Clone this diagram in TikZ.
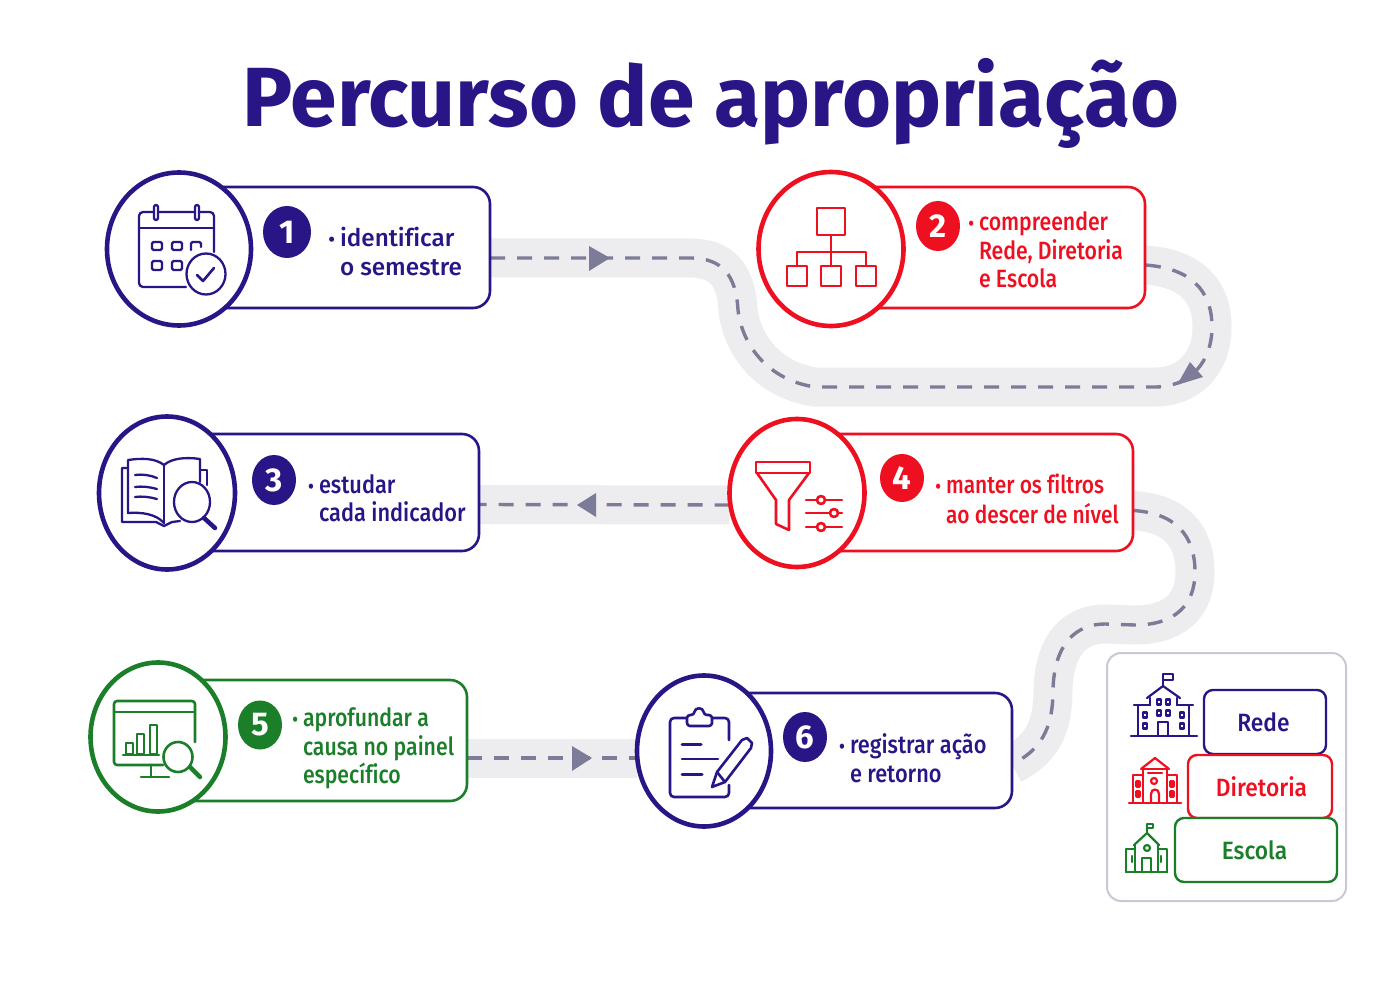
\documentclass[tikz,border=0pt]{standalone}
\usepackage{fontspec}
\usetikzlibrary{shapes.geometric,calc,backgrounds}
\setmainfont{Fira Sans}
\newfontfamily\bodyf{Fira Sans Medium}[Ligatures=NoCommon]
\newfontfamily\narf{Fira Sans Medium}[FakeStretch=0.87,Ligatures=NoCommon]
\newfontfamily\nartf{Fira Sans Medium}[FakeStretch=0.85,Ligatures=NoCommon]
\newfontfamily\medf{Fira Sans Medium}[FakeStretch=0.91,Ligatures=NoCommon]
\definecolor{navy}{HTML}{2A1587}
\definecolor{redd}{HTML}{EE1020}
\definecolor{grn}{HTML}{1B7F2A}
\definecolor{roadc}{HTML}{EDEDEF}
\definecolor{dashc}{HTML}{7C7C98}
\definecolor{panelc}{HTML}{C9C9D6}
\tikzset{
 every node/.style={inner sep=0pt,outer sep=0pt},
 stepbox/.style={draw=#1,fill=white,line width=2.6pt,rounded corners=17pt},
 ring/.style={draw=#1,fill=white,line width=4.6pt,ellipse},
 badge/.style={fill=#1,text=white,ellipse,font=\fontsize{33}{33}\selectfont\bfseries},
 lbl/.style={text=#1,anchor=west,align=left,font=\narf\fontsize{25}{28.5}\selectfont},
 band/.style={draw=roadc,line width=39pt,line cap=butt},
 dashline/.style={draw=dashc,line width=3.4pt,dash pattern=on 15pt off 12pt},
 tip/.style={fill=dashc},
 icon/.style={draw=#1,line width=2.3pt,line join=round,line cap=round},
 levelbox/.style={draw=#1,text=#1,fill=white,line width=2.4pt,rounded corners=9pt,font=\medf\fontsize{25}{28}\selectfont},
}
\newcommand{\stepnode}[6]{% name, color, box left, box right, top, bottom
 \node[stepbox=#2,minimum width=#4pt-#3pt,minimum height=#6pt-#5pt] (#1) at ({(#3+#4)/2},{(#5+#6)/2}) {};
}
\newcommand{\bul}{\llap{{\fontsize{20}{20}\selectfont •}\hspace{5pt}}}
\newcommand{\roadA}{(a0) -- (a1) .. controls (a2) and (a3) .. (a4) .. controls (a5) and (a6) .. (a7) -- (a8) .. controls (a9) and (a10) .. (a11) .. controls (a12) and (a13) .. (a14)}
\newcommand{\roadC}{(r0) .. controls (r1) and (r2) .. (r3) .. controls (r4) and (r5) .. (r6) -- (r7) .. controls (r8) and (r9) .. (r10) .. controls (r11) and (r12) .. (r13)}
\begin{document}
\begin{tikzpicture}[x=1pt,y=-1pt]
\useasboundingbox (0,0) rectangle (1400,1000);
\node[anchor=base,text=navy,font=\fontsize{84}{84}\selectfont\bfseries] (title) at (711,127) {Percurso de apropriação};

% step boxes
\stepnode{b1}{navy}{179}{490}{187}{308}
\stepnode{b2}{redd}{831}{1145}{187}{308}
\stepnode{b3}{navy}{167}{479}{434}{551}
\stepnode{b4}{redd}{797}{1133}{434}{551}
\stepnode{b5}{grn}{158}{467}{680}{801}
\stepnode{b6}{navy}{704}{1012}{693}{808}

% rings
\node[ring=navy,minimum width=144pt,minimum height=153pt] (c1) at (179,249) {};
\node[ring=redd,minimum width=145pt,minimum height=154pt] (c2) at (831,249) {};
\node[ring=navy,minimum width=136pt,minimum height=153pt] (c3) at (167,493) {};
\node[ring=redd,minimum width=135pt,minimum height=148pt] (c4) at (797,493) {};
\node[ring=grn,minimum width=135pt,minimum height=149pt] (c5) at (158,737) {};
\node[ring=navy,minimum width=134pt,minimum height=151pt] (c6) at (704,751) {};

% badges
\node[badge=navy,minimum width=48pt,minimum height=52pt] (n1) at (287,232) {1};
\node[badge=redd,minimum width=44pt,minimum height=50pt] (n2) at (938,226) {2};
\node[badge=navy,minimum width=44pt,minimum height=50pt] (n3) at (274,480) {3};
\node[badge=redd,minimum width=44pt,minimum height=48pt] (n4) at (902,478) {4};
\node[badge=grn,minimum width=44pt,minimum height=49pt] (n5) at (260,725) {5};
\node[badge=navy,minimum width=44pt,minimum height=50pt] (n6) at (805,737) {6};

% labels
\node[lbl=navy,font=\bodyf\fontsize{24.3}{28.5}\selectfont] (t1) at (340,{261-5.7}) {\strut\bul identificar\\o semestre\strut};
\node[lbl=redd,font=\nartf\fontsize{25}{28.2}\selectfont] (t2) at (979,{259-5.7}) {\strut\bul compreender\\Rede, Diretoria\\e Escola\strut};
\node[lbl=navy] (t3) at (319,{507.5-5.7}) {\strut\bul estudar\\cada indicador\strut};
\node[lbl=redd,font=\nartf\fontsize{24.6}{30}\selectfont] (t4) at (946,{508-6}) {\strut\bul manter os filtros\\ao descer de nível\strut};
\node[lbl=grn,font=\nartf\fontsize{25}{28.5}\selectfont] (t5) at (303,{755-5.7}) {\strut\bul aprofundar a\\causa no painel\\específico\strut};
\node[lbl=navy] (t6) at (850,{768-5.7}) {\strut\bul registrar ação\\e retorno\strut};

% road waypoints
\coordinate (a0) at ($(b1.east)+(0,10.5)$);
\coordinate (a1) at (690,258);
\coordinate (a2) at (722,258);
\coordinate (a3) at (736,275);
\coordinate (a4) at (738,310);
\coordinate (a5) at (742,345);
\coordinate (a6) at (768,380);
\coordinate (a7) at (815,387);
\coordinate (a8) at (1155,387);
\coordinate (a9) at (1190,387);
\coordinate (a10) at (1212,362);
\coordinate (a11) at (1212,327);
\coordinate (a12) at (1212,290);
\coordinate (a13) at (1190,268);
\coordinate (a14) at ($(b2.east)+(0,17.5)$);
\coordinate (r0) at ($(b4.east)+(0,18)$);
\coordinate (r1) at (1175,513);
\coordinate (r2) at (1195,535);
\coordinate (r3) at (1195,572);
\coordinate (r4) at (1195,605);
\coordinate (r5) at (1175,625);
\coordinate (r6) at (1135,625);
\coordinate (r7) at (1105,624);
\coordinate (r8) at (1075,624);
\coordinate (r9) at (1054,645);
\coordinate (r10) at (1053,690);
\coordinate (r11) at (1053,730);
\coordinate (r12) at (1040,750);
\coordinate (r13) at ($(b6.east)+(0,14)$);
\coordinate (q0) at ($(c4.west)+(0,12)$);
\coordinate (q1) at ($(b3.east)+(0,12)$);
\coordinate (d0) at ($(b5.east)+(0,17.5)$);
\coordinate (d1) at ($(c6.west)+(0,7)$);

\begin{scope}[on background layer]
 \fill[white] (0,0) rectangle (1400,1000);
 \draw[band] \roadA;
 \draw[band] \roadC;
 \draw[band] (q0) -- (q1);
 \draw[band] (d0) -- (d1);
 \draw[dashline] \roadA;
 \draw[dashline] \roadC;
 \draw[dashline] (q0) -- (q1);
 \draw[dashline] (d0) -- (d1);
 \fill[tip] (589,246) -- (610,258) -- (589,271) -- cycle;
 \fill[tip] (1190,362) -- (1203,377) -- (1177,385) -- cycle;
 \fill[tip] (577,505) -- (596,493) -- (596,517) -- cycle;
 \fill[tip] (592,758) -- (572,746) -- (572,771) -- cycle;
\end{scope}

% icon 1: calendar
\begin{scope}[icon=navy]
 \draw[rounded corners=4pt] (214,252) -- (214,212) -- (139,212) -- (139,287) -- (186,287);
 \draw (139,228) -- (214,228);
 \draw[fill=white,rounded corners=2pt] (154,205) rectangle (158,220);
 \draw[fill=white,rounded corners=2pt] (195,205) rectangle (199,220);
 \draw[rounded corners=1.5pt] (152,242) rectangle (162,250);
 \draw[rounded corners=1.5pt] (172,242) rectangle (182,250);
 \draw[rounded corners=1.5pt] (191,250) -- (191,242) -- (201,242) -- (201,247);
 \draw[rounded corners=1.5pt] (152,261) rectangle (162,270);
 \draw[rounded corners=1.5pt] (172,261) rectangle (182,270);
 \draw[fill=white] (206,274) circle [x radius=19.5,y radius=20.5];
 \draw[line width=2.6pt] (197,275) -- (203,281) -- (214,268);
\end{scope}
% icon 2: hierarchy
\begin{scope}[icon=redd,line width=2.6pt]
 \draw (817,208) rectangle (845,235);
 \draw (831,235) -- (831,266);
 \draw (797,266) -- (797,252) -- (866,252) -- (866,266);
 \draw (787,266) rectangle (807,286);
 \draw (821,266) rectangle (841,286);
 \draw (856,266) rectangle (876,286);
\end{scope}
% icon 3: book
\begin{scope}[icon=navy]
 \draw (164,523) -- (164,465);
 \draw (164,465) .. controls (155,458) and (142,458) .. (128,460) -- (128,513) .. controls (142,512) and (156,514) .. (164,523);
 \draw (164,465) .. controls (172,458) and (186,457) .. (200,459) -- (200,482);
 \draw (128,468) -- (122,468) -- (122,522) -- (156,522) -- (164,526) -- (172,522) -- (180,521);
 \draw (200,470) -- (207,470) -- (207,485);
 \draw (135,475) .. controls (142,474) and (150,475) .. (157,478);
 \draw (135,487) .. controls (142,486) and (150,487) .. (157,489);
 \draw (135,497) .. controls (142,496) and (150,497) .. (157,499);
 \draw[fill=white] (192,502) circle [x radius=18,y radius=20];
 \draw[line width=4.5pt] (204,518) -- (215,528);
\end{scope}
% icon 4: funnel
\begin{scope}[icon=redd,line width=2.6pt]
 \draw (756,462) rectangle (810,473);
 \draw (757,473) -- (776,500) -- (776,524) -- (789,530) -- (789,500) -- (809,473);
 \draw (806,500) -- (842,500);
 \draw (806,513) -- (842,513);
 \draw (806,527) -- (842,527);
 \draw[fill=white] (821,500) circle [radius=4];
 \draw[fill=white] (834,513) circle [radius=4];
 \draw[fill=white] (821,527) circle [radius=4];
\end{scope}
% icon 5: dashboard
\begin{scope}[icon=grn,line width=2.6pt]
 \draw[rounded corners=3pt] (195,742) -- (195,701) -- (114,701) -- (114,765) -- (163,765);
 \draw (114,712) -- (195,712);
 \draw (151,765) -- (151,777);
 \draw (141,777) -- (169,777);
 \draw (126,754) rectangle (133,743);
 \draw (137,754) rectangle (144,734);
 \draw (150,754) rectangle (157,725);
 \draw (123,755) -- (159,755);
 \draw[fill=white] (178,757) circle [x radius=14.5,y radius=15];
 \draw[line width=4.5pt] (190,767) -- (200,777);
\end{scope}
% icon 6: clipboard
\begin{scope}[icon=navy,line width=2.6pt]
 \draw[rounded corners=4pt] (729,740) -- (729,718) -- (670,718) -- (670,797) -- (729,797) -- (729,785);
 \draw[fill=white,rounded corners=3pt] (687,726) -- (687,715) -- (694,715) .. controls (695,707) and (703,707) .. (704,715) -- (712,715) -- (712,726) -- cycle;
 \draw[line width=3pt] (682,744) -- (701,744);
 \draw (682,759) -- (718,759);
 \draw[line width=3pt] (682,774) -- (702,774);
 \draw[fill=white] (712,787) -- (717,772) -- (742,740) -- (747,738) -- (752,743) -- (751,748) -- (725,782) -- cycle;
 \draw (717,772) -- (725,782);
\end{scope}

% legend panel
\node[draw=panelc,fill=white,line width=2pt,rounded corners=14pt,minimum width=239pt,minimum height=248pt] (panel) at (1226.5,777) {};
\node[levelbox=navy,minimum width=122pt,minimum height=64pt] (rede) at (1265,722) {\kern-3pt Rede};
\node[levelbox=redd,minimum width=144pt,minimum height=63pt] (dir) at (1260,786.5) {\kern3pt Diretoria};
\node[levelbox=grn,minimum width=162pt,minimum height=64pt] (esc) at (1256,850) {\kern-3pt Escola};

% building: Rede
\begin{scope}[icon=navy,line width=2.2pt]
 \draw[line width=2.6pt] (1131,736) -- (1197,736);
 \draw (1134,705) -- (1150,705);
 \draw (1177,705) -- (1193,705);
 \draw (1138,705) -- (1138,736);
 \draw (1189,705) -- (1189,736);
 \draw (1150,698) -- (1150,705);
 \draw (1177,698) -- (1177,705);
 \draw (1147,698) -- (1163,686) -- (1180,698);
 \draw (1163,686) -- (1163,674) -- (1173,674) -- (1173,680) -- (1163,680);
 \draw (1158,736) -- (1158,722) -- (1168,722) -- (1168,736);
 \foreach \wx/\wy in {1145/715,1145/726,1182/715,1182/726,1159/702,1168/702,1159/713,1168/713}
  \draw (\wx-2,\wy-2.5) rectangle (\wx+2,\wy+2.5);
\end{scope}
% building: Diretoria
\begin{scope}[icon=redd,line width=2.2pt]
 \draw[line width=2.6pt] (1129,803) -- (1181,803);
 \draw (1133,803) -- (1133,775) -- (1143,775);
 \draw (1177,803) -- (1177,775) -- (1167,775);
 \draw (1143,803) -- (1143,769);
 \draw (1167,769) -- (1167,803);
 \draw (1143,769) -- (1167,769);
 \draw (1141,769) -- (1155,758) -- (1169,769);
 \draw (1148,773) -- (1162,773);
 \draw (1154,781) circle [radius=3];
 \draw (1151,803) -- (1151,794) .. controls (1151,788) and (1159,788) .. (1159,794) -- (1159,803);
 \foreach \wx/\wy in {1138/784,1138/794,1172/784,1172/794}
  \draw (\wx-1.5,\wy-2.5) rectangle (\wx+1.5,\wy+2.5);
\end{scope}
% building: Escola
\begin{scope}[icon=grn,line width=2.2pt]
 \draw (1126,872) -- (1167,872);
 \draw (1126,872) -- (1126,849) -- (1135,849);
 \draw (1167,872) -- (1167,849) -- (1158,849);
 \draw (1135,872) -- (1135,845);
 \draw (1158,872) -- (1158,845);
 \draw (1134,845) -- (1147,833) -- (1159,845);
 \draw (1147,833) -- (1147,824) -- (1153,824) -- (1153,828) -- (1147,828);
 \draw (1147,848) circle [radius=3];
 \draw (1142,872) -- (1142,858) -- (1151,858) -- (1151,872);
 \draw (1132,856) -- (1132,862);
 \draw (1161,856) -- (1161,862);
\end{scope}
\end{tikzpicture}
\end{document}
